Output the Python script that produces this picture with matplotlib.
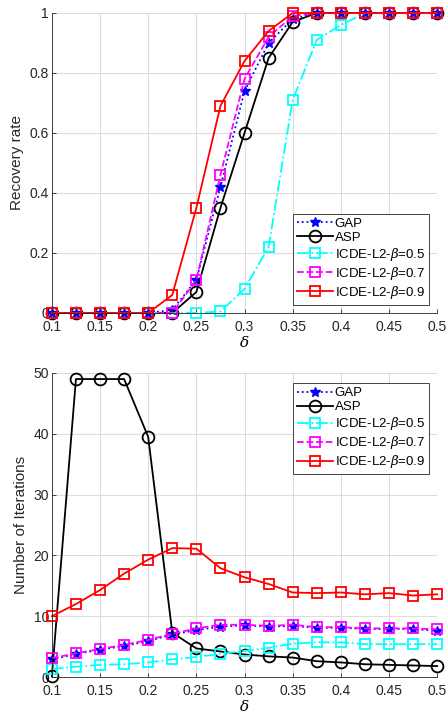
import numpy as np
import matplotlib
matplotlib.use("Agg")
import matplotlib.pyplot as plt

delta = [0.1, 0.125, 0.15, 0.175, 0.2, 0.225, 0.25, 0.275, 0.3, 0.325, 0.35,
         0.375, 0.4, 0.425, 0.45, 0.475, 0.5]

rec_gap = [0, 0, 0, 0, 0, 0.01, 0.11, 0.42, 0.74, 0.90, 0.98, 1, 1, 1, 1, 1, 1]
rec_asp = [0, 0, 0, 0, 0, 0, 0.07, 0.35, 0.60, 0.85, 0.97, 1, 1, 1, 1, 1, 1]
rec_b05 = [0, 0, 0, 0, 0, 0, 0, 0.005, 0.08, 0.22, 0.71, 0.91, 0.96, 1, 1, 1, 1]
rec_b07 = [0, 0, 0, 0, 0, 0, 0.11, 0.46, 0.78, 0.92, 0.99, 1, 1, 1, 1, 1, 1]
rec_b09 = [0, 0, 0, 0, 0, 0.06, 0.35, 0.69, 0.84, 0.94, 1, 1, 1, 1, 1, 1, 1]

it_gap = [2.9, 3.8, 4.5, 5.1, 5.9, 7.0, 7.7, 8.3, 8.5, 8.3, 8.4, 8.1, 8.1, 7.9, 7.9, 7.9, 7.6]
it_asp = [0.1, 49, 49, 49, 39.5, 7.3, 4.7, 4.2, 3.7, 3.4, 3.2, 2.6, 2.4, 2.1, 2.0, 1.9, 1.8]
it_b05 = [1.3, 1.7, 2.0, 2.1, 2.4, 2.9, 3.3, 3.8, 4.3, 4.8, 5.5, 5.7, 5.7, 5.4, 5.4, 5.4, 5.4]
it_b07 = [3.1, 3.9, 4.6, 5.3, 6.1, 7.1, 8.0, 8.6, 8.6, 8.4, 8.6, 8.2, 8.2, 8.0, 8.0, 8.0, 7.85]
it_b09 = [10.0, 12.0, 14.3, 17.0, 19.3, 21.2, 21.1, 17.9, 16.4, 15.3, 13.9, 13.8, 13.9, 13.6, 13.8, 13.4, 13.6]

labels = ["GAP", "ASP", r"ICDE-L2-$\beta$=0.5", r"ICDE-L2-$\beta$=0.7", r"ICDE-L2-$\beta$=0.9"]
xticks = [0.1, 0.15, 0.2, 0.25, 0.3, 0.35, 0.4, 0.45, 0.5]
xticklabels = ["0.1", "0.15", "0.2", "0.25", "0.3", "0.35", "0.4", "0.45", "0.5"]

plt.rcParams['font.family'] = ['Liberation Sans', 'DejaVu Sans']
plt.rcParams['mathtext.fontset'] = 'custom'
plt.rcParams['mathtext.it'] = 'DejaVu Serif:italic'
plt.rcParams['font.size'] = 10

fig = plt.figure(figsize=(4.47, 7.22), dpi=100)
ax1 = fig.add_axes([0.116, 0.5665, 0.862, 0.4155])
ax2 = fig.add_axes([0.116, 0.0623, 0.862, 0.4211])

styles = [
    dict(color='blue', linestyle=':', marker='*', markersize=7, linewidth=1.3),
    dict(color='black', linestyle='-', marker='o', markersize=8.5, markerfacecolor='none', markeredgewidth=1.3, linewidth=1.3),
    dict(color='cyan', linestyle='-.', marker='s', markersize=6.5, markerfacecolor='none', markeredgewidth=1.3, linewidth=1.3),
    dict(color='magenta', linestyle='--', marker='s', markersize=6.5, markerfacecolor='none', markeredgewidth=1.3, linewidth=1.3),
    dict(color='red', linestyle='-', marker='s', markersize=6.5, markerfacecolor='none', markeredgewidth=1.3, linewidth=1.3),
]

for ax, series, ylab, ylim, yticks, loc, anchor in [
    (ax1, [rec_gap, rec_asp, rec_b05, rec_b07, rec_b09], "Recovery rate", (0, 1),
     [0, 0.2, 0.4, 0.6, 0.8, 1], 'lower left', (0.626, 0.027)),
    (ax2, [it_gap, it_asp, it_b05, it_b07, it_b09], "Number of Iterations", (0, 50),
     [0, 10, 20, 30, 40, 50], 'upper left', (0.626, 0.967)),
]:
    for s, lab, st in zip(series, labels, styles):
        ax.plot(delta, s, label=lab, clip_on=False, **st)
    ax.set_xlim(0.1, 0.5)
    ax.set_ylim(*ylim)
    ax.set_xticks(xticks)
    ax.set_xticklabels(xticklabels)
    ax.set_yticks(yticks)
    ax.set_yticklabels([("%g" % v) for v in yticks])
    ax.grid(True, color='#dcdcdc', linewidth=0.8)
    ax.set_axisbelow(True)
    ax.tick_params(direction='in', length=3, width=0.6, colors='#262626', labelsize=10,
                   top=False, right=False)
    ax.tick_params(axis='x', pad=5)
    ax.tick_params(axis='y', pad=2)
    for sp in ax.spines.values():
        sp.set_linewidth(0.6)
        sp.set_color('#262626')
    ax.spines['top'].set_visible(False)
    ax.spines['right'].set_visible(False)
    ax.set_xlabel(r"$\delta$", fontsize=11, labelpad=1)
    ax.set_ylabel(ylab, fontsize=11, color='#262626', labelpad=4)
    leg = ax.legend(loc=loc, bbox_to_anchor=anchor, fontsize=9.5, frameon=True,
                    fancybox=False, edgecolor='#262626', framealpha=1,
                    borderpad=0.3, labelspacing=0.15, handlelength=2.7, handletextpad=0.15,
                    borderaxespad=0)
    leg.get_frame().set_linewidth(0.6)

fig.savefig("out.png", dpi=100)
